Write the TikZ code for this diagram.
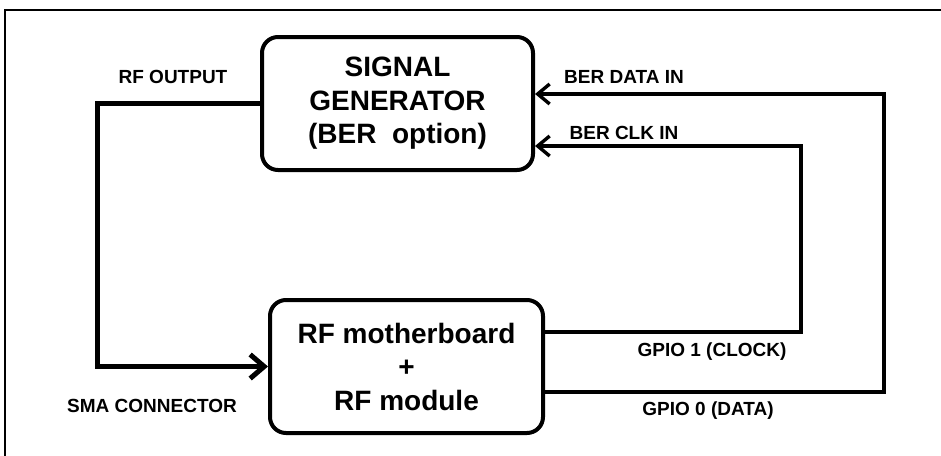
\documentclass[tikz,border=0pt]{standalone}
\usepackage{fontspec}
\setmainfont{Liberation Sans}
\usetikzlibrary{arrows.meta,calc}
\begin{document}
\begin{tikzpicture}[x=1pt,y=-1pt,
  blockbox/.style={draw=black, line width=4pt, rounded corners=16pt, fill=white,
    align=center, inner sep=0pt, font=\fontsize{28}{33.5}\selectfont\bfseries},
  lbl/.style={font=\fontsize{19}{22}\selectfont\bfseries, inner sep=0pt, anchor=base},
  mainline/.style={line width=5pt, -{Straight Barb[length=14pt,width=24pt,line width=5pt]}},
  sigline/.style={line width=3.6pt, -{Straight Barb[length=12pt,width=20pt,line width=3.4pt]}}]
\useasboundingbox (0,0) rectangle (941,455);
\fill[white] (0,0) rectangle (941,455);
% outer frame (left and top edges)
\draw[line width=2pt] (5,470) -- (5,9.5) -- (960,9.5);

\node[blockbox, minimum width=271pt, minimum height=133pt] (siggen) at (397.5,103.5)
  {SIGNAL\\GENERATOR\\(BER\ \ option)};
\node[blockbox, minimum width=273pt, minimum height=133pt] (rfbox) at (406.5,366.5)
  {RF motherboard\\+\\RF module};

% RF output to SMA connector
\draw[mainline] (siggen.west) -- ++(-162.5,0) |- (rfbox.west);

% GPIO 1 (clock) to BER CLK IN
\draw[sigline] ($(rfbox.east)+(0,-34.5)$) -- (801,332) -- (801,146) -- ($(siggen.east)+(0,42.5)$);
% GPIO 0 (data) to BER DATA IN
\draw[sigline] ($(rfbox.east)+(0,25.5)$) -- (884,392) -- (884,94) -- ($(siggen.east)+(0,-9.5)$);

\node[lbl] (lrfout) at (173,83.5) {RF OUTPUT};
\node[lbl] (lsma) at (152,412) {SMA CONNECTOR};
\node[lbl] (ldata) at (624,83) {BER DATA IN};
\node[lbl] (lclk) at (624,139) {BER CLK IN};
\node[lbl] (lgpio1) at (712,356) {GPIO 1 (CLOCK)};
\node[lbl] (lgpio0) at (708,415) {GPIO 0 (DATA)};
\end{tikzpicture}
\end{document}
